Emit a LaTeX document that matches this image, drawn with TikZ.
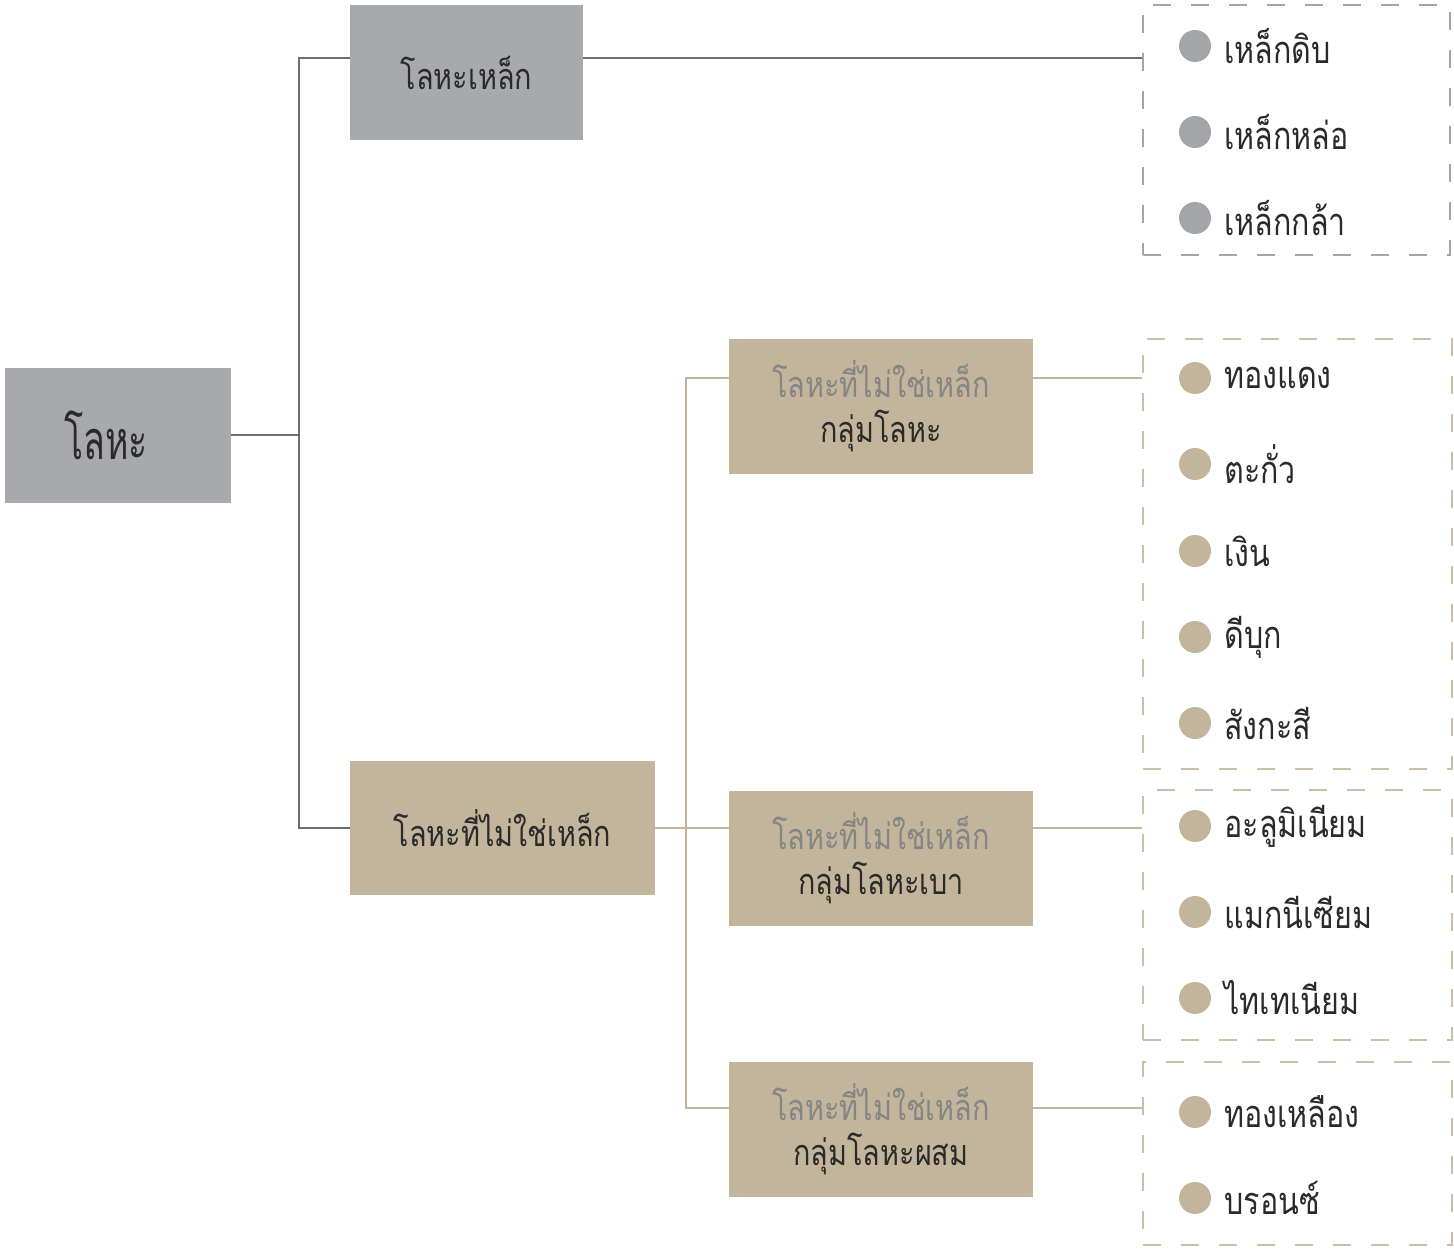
\documentclass[tikz,border=0pt]{standalone}
\usepackage{fontspec}
\newfontfamily\thaifont[Script=Thai, FakeStretch=0.8]{Loma}
\newfontfamily\thaitight[Script=Thai, FakeStretch=0.66]{Loma}
\definecolor{boxgray}{HTML}{A7A9AC}
\definecolor{boxtan}{HTML}{C2B59B}
\definecolor{linegray}{HTML}{6D6E71}
\definecolor{linetan}{HTML}{C2B59B}
\definecolor{dashgray}{HTML}{A3A5A8}
\definecolor{dashtan}{HTML}{C9BEA8}
\definecolor{ink}{HTML}{2A2A2A}
\definecolor{softink}{HTML}{858585}
\tikzset{
  box/.style={rectangle, inner sep=0pt, text=ink, font=\thaifont\fontsize{18}{22.5}\selectfont, align=center},
  graybox/.style={box, fill=boxgray},
  tanbox/.style={box, fill=boxtan},
  gline/.style={draw=linegray, line width=1.1pt},
  tline/.style={draw=linetan, line width=1.1pt},
  dbox/.style={rectangle, inner sep=0pt, line width=1pt, dash pattern=on 9pt off 10pt},
  graydash/.style={dbox, draw=dashgray},
  tandash/.style={dbox, draw=dashtan},
  dot/.style={circle, inner sep=0pt, minimum size=16pt},
  graydot/.style={dot, fill=dashgray},
  tandot/.style={dot, fill=boxtan},
  item/.style={anchor=west, inner sep=0pt, text=ink, font=\thaifont\fontsize{19}{21}\selectfont}
}
\begin{document}
\begin{tikzpicture}[x=0.5pt, y=-0.5pt]
\useasboundingbox (0,0) rectangle (1454,1251);

% main boxes
\node[graybox, minimum width=113pt, minimum height=67.5pt, font=\thaitight\fontsize{27}{30}\selectfont] (root) at (118,435) {\hspace*{-12pt}โลหะ};
\node[graybox, minimum width=116.5pt, minimum height=67.5pt] (steel) at (466.5,72.5) {โลหะเหล็ก};
\node[tanbox, minimum width=152.5pt, minimum height=67pt] (nonfe) at (502.5,828) {โลหะที่ไม่ใช่เหล็ก};
\node[tanbox, minimum width=152pt, minimum height=67.5pt] (grpA) at (881,406.5) {\textcolor{softink}{โลหะที่ไม่ใช่เหล็ก}\\กลุ่มโลหะ};
\node[tanbox, minimum width=152pt, minimum height=67.5pt] (grpB) at (881,858.5) {\textcolor{softink}{โลหะที่ไม่ใช่เหล็ก}\\กลุ่มโลหะเบา};
\node[tanbox, minimum width=152pt, minimum height=67.5pt] (grpC) at (881,1129.5) {\textcolor{softink}{โลหะที่ไม่ใช่เหล็ก}\\กลุ่มโลหะผสม};

% dashed lists
\node[graydash, minimum width=153.5pt, minimum height=125pt] (listS) at (1296.5,130) {};
\node[tandash, minimum width=154.5pt, minimum height=215pt] (listA) at (1297.5,554) {};
\node[tandash, minimum width=154.5pt, minimum height=125pt] (listB) at (1297.5,915) {};
\node[tandash, minimum width=154.5pt, minimum height=91.5pt] (listC) at (1297.5,1153.5) {};

% ferrous branch
\coordinate (trunk) at (299,435);
\draw[gline] (root.east) -- (trunk);
\draw[gline] (trunk) |- ([yshift=7.25pt]steel.west);
\draw[gline] (trunk) |- (nonfe.west);
\draw[gline] ([yshift=7.25pt]steel.east) -- ([yshift=36pt]listS.west);

% non-ferrous branch
\coordinate (fork) at (686,828);
\draw[tline] (nonfe.east) -- (fork);
\draw[tline] (fork) |- ([yshift=14.25pt]grpA.west);
\draw[tline] (fork) -- (grpB.west |- fork);
\draw[tline] (fork) |- ([yshift=10.75pt]grpC.west);
\draw[tline] ([yshift=14.25pt]grpA.east) -- ([yshift=88pt]listA.west);
\draw[tline] (grpB.east |- fork) -- (listB.west |- fork);
\draw[tline] ([yshift=10.75pt]grpC.east) -- ([yshift=22.75pt]listC.west);

% list entries
\foreach \n/\y/\t in {s1/46/เหล็กดิบ, s2/132/เหล็กหล่อ, s3/218/เหล็กกล้า}{
  \node[graydot] (d\n) at (1195,\y) {};
  \node[item] (t\n) at (1224,\y) {\t};
}
\foreach \n/\y/\t in {a1/378/ทองแดง, a2/464/ตะกั่ว, a3/551/เงิน, a4/637/ดีบุก, a5/723/สังกะสี,
                      b1/826/อะลูมิเนียม, b2/912/แมกนีเซียม, b3/998/ไทเทเนียม,
                      c1/1112/ทองเหลือง, c2/1198/บรอนซ์}{
  \node[tandot] (d\n) at (1195,\y) {};
  \node[item] (t\n) at (1224,\y) {\t};
}
\end{tikzpicture}
\end{document}
